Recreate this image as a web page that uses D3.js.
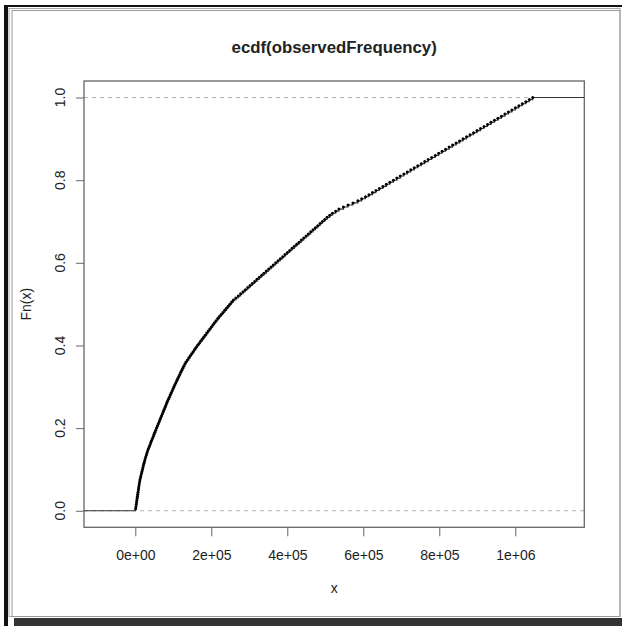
<!DOCTYPE html>
<html>
<head>
<meta charset="utf-8">
<script src="https://cdn.jsdelivr.net/npm/d3@7"></script>
<style>
  body { margin: 0; background: #fff; }
  text { font-family: "Liberation Sans", Arial, sans-serif; fill: #222; }
</style>
</head>
<body>
<div id="chart"></div>
<script>
// size of the window
const width = 622;
const height = 626;
// plot region (the box R draws)
const margin = {left: 84, right: 622 - 584.3, top: 81, bottom: 626 - 527.3};

// sorted observed values (each one is a jump of the ecdf)
const observedFrequency = [
  812, 1603, 2390, 3187, 4005, 4822, 5631, 6410, 7218, 8035,
  8790, 9561, 10412, 11240, 12305, 13420, 14760, 16087, 17455, 18812,
  20130, 21466, 22841, 24230, 25770, 27318, 28950, 30594, 32440, 34310,
  36470, 38622, 40740, 42871, 45040, 47205, 49290, 51388, 53615, 55834,
  58010, 60190, 62455, 64712, 66890, 69077, 71305, 73541, 75750, 77958,
  80190, 82433, 84720, 87012, 89440, 91874, 94290, 96705, 99135, 101566,
  104030, 106488, 109105, 111730, 114320, 116912, 119540, 122175, 124780, 127390,
  130350, 133320, 137070, 140815, 144540, 148260, 152030, 155802, 159620, 163440,
  167510, 171590, 175660, 179735, 183800, 187860, 191935, 196012, 200100, 204185,
  208295, 212409, 216870, 221330, 225905, 230481, 235095, 239712, 244260, 248806,
  253420, 258034, 264470, 270912, 277165, 283420, 289555, 295688, 301810, 307930,
  314070, 320215, 326340, 332470, 338630, 344790, 350950, 357105, 363240, 369380,
  375535, 381690, 387850, 394010, 400145, 406285, 412430, 418570, 424745, 430920,
  437050, 443180, 449325, 455470, 461600, 467730, 473870, 480015, 486160, 492300,
  498455, 504610, 511700, 518790, 527250, 535710, 547760, 559805, 572780, 585760,
  595725, 605690, 614860, 624030, 633205, 642380, 651550, 660720, 669900, 679080,
  688250, 697420, 706615, 715810, 724950, 734090, 743285, 752480, 761655, 770830,
  780000, 789170, 798345, 807520, 816700, 825880, 835055, 844230, 853405, 862580,
  871745, 880910, 890090, 899270, 908455, 917640, 926810, 935980, 945150, 954320,
  963505, 972690, 981850, 991010, 1000190, 1009370, 1018545, 1027720, 1036865, 1046010
];

// axis ticks
const xTicks = [0, 200000, 400000, 600000, 800000, 1000000];
const xTickLabels = ["0e+00", "2e+05", "4e+05", "6e+05", "8e+05", "1e+06"];
const yTicks = [0, 0.2, 0.4, 0.6, 0.8, 1.0];
const yTickLabels = ["0.0", "0.2", "0.4", "0.6", "0.8", "1.0"];
const xLimits = [-135000, 1181600];
const yLimits = [-0.04, 1.04];

const svg = d3.select("#chart")
  .append("svg")
  .attr("width", width)
  .attr("height", height);

// window frame
svg.append("rect").attr("x", 4).attr("y", 5).attr("width", 618).attr("height", 2).attr("fill", "#111");
svg.append("rect").attr("x", 4).attr("y", 5).attr("width", 4).attr("height", 621).attr("fill", "#111");
svg.append("rect").attr("x", 9).attr("y", 8.5).attr("width", 611).attr("height", 608)
  .attr("fill", "none").attr("stroke", "#aaa").attr("stroke-width", 1);
svg.append("rect").attr("x", 12).attr("y", 10.5).attr("width", 608).attr("height", 606)
  .attr("fill", "none").attr("stroke", "#999").attr("stroke-width", 1);
svg.append("rect").attr("x", 14).attr("y", 618).attr("width", 608).attr("height", 8).attr("fill", "#333");

// scales
const xScale = d3.scaleLinear()
  .domain(xLimits)
  .range([margin.left, width - margin.right]);
const yScale = d3.scaleLinear()
  .domain(yLimits)
  .range([height - margin.bottom, margin.top]);

// dashed lines at 0 and 1
svg.selectAll(".hline")
  .data([0, 1])
  .enter()
  .append("line")
    .attr("class", "hline")
    .attr("x1", xScale(xLimits[0]))
    .attr("x2", xScale(xLimits[1]))
    .attr("y1", d => yScale(d))
    .attr("y2", d => yScale(d))
    .attr("stroke", "#b3b3b3")
    .attr("stroke-dasharray", "4,4");

// x axis
const xAxis = svg.append("g")
  .attr("transform", `translate(0,${height - margin.bottom})`)
  .call(d3.axisBottom(xScale)
    .tickValues(xTicks)
    .tickFormat((d, i) => xTickLabels[i])
    .tickSize(9)
    .tickPadding(14));
xAxis.select(".domain").remove();
xAxis.selectAll("line").attr("stroke", "#666");
xAxis.selectAll("text")
  .attr("font-size", "14px")
  .attr("font-family", "Liberation Sans, Arial, sans-serif")
  .attr("fill", "#222");

// y axis (labels rotated like R)
const yAxis = svg.append("g")
  .attr("transform", `translate(${margin.left},0)`)
  .call(d3.axisLeft(yScale)
    .tickValues(yTicks)
    .tickFormat("")
    .tickSize(8));
yAxis.select(".domain").remove();
yAxis.selectAll("line").attr("stroke", "#666");

svg.selectAll(".ylab")
  .data(yTicks)
  .enter()
  .append("text")
    .attr("class", "ylab")
    .attr("transform", d => `translate(65,${yScale(d)}) rotate(-90)`)
    .attr("text-anchor", "middle")
    .attr("font-size", "14px")
    .text((d, i) => yTickLabels[i]);

// plot box
svg.append("rect")
  .attr("x", margin.left)
  .attr("y", margin.top)
  .attr("width", width - margin.left - margin.right)
  .attr("height", height - margin.top - margin.bottom)
  .attr("fill", "none")
  .attr("stroke", "#666")
  .attr("stroke-width", 1.3);

// ecdf steps
const n = observedFrequency.length;
const stepPoints = [[xLimits[0], 0]]
  .concat(observedFrequency.map((v, i) => [v, (i + 1) / n]))
  .concat([[xLimits[1], 1]]);

const line = d3.line()
  .x(d => xScale(d[0]))
  .y(d => yScale(d[1]))
  .curve(d3.curveStepAfter);

svg.append("path")
  .datum(stepPoints)
  .attr("d", line)
  .attr("fill", "none")
  .attr("stroke", "#333")
  .attr("stroke-width", 1.1);

svg.selectAll(".pt")
  .data(observedFrequency)
  .enter()
  .append("circle")
    .attr("class", "pt")
    .attr("cx", d => xScale(d))
    .attr("cy", (d, i) => yScale((i + 1) / n))
    .attr("r", 1.5)
    .attr("fill", "#000");

// titles
svg.append("text")
  .attr("x", (margin.left + width - margin.right) / 2)
  .attr("y", 53)
  .attr("text-anchor", "middle")
  .attr("font-size", "16.8px")
  .attr("font-weight", "bold")
  .text("ecdf(observedFrequency)");

svg.append("text")
  .attr("x", (margin.left + width - margin.right) / 2)
  .attr("y", 593)
  .attr("text-anchor", "middle")
  .attr("font-size", "14px")
  .text("x");

svg.append("text")
  .attr("transform", `translate(31,${(margin.top + height - margin.bottom) / 2}) rotate(-90)`)
  .attr("text-anchor", "middle")
  .attr("font-size", "14px")
  .text("Fn(x)");
</script>
</body>
</html>
